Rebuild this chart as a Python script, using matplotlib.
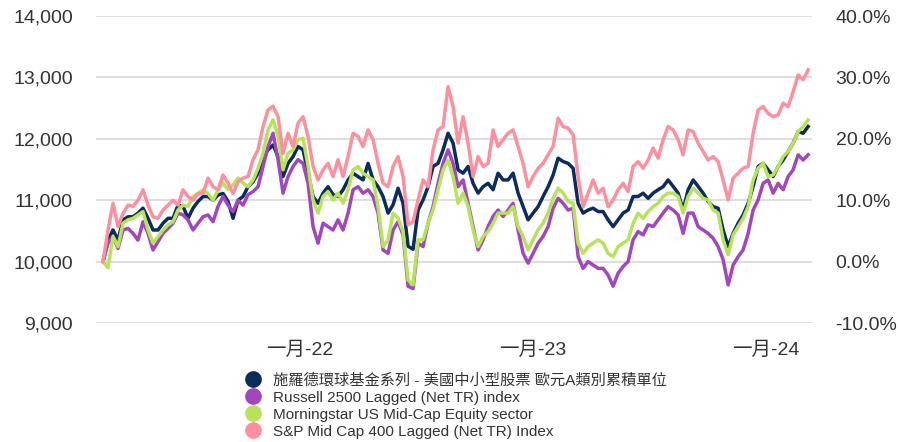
import pandas as pd
import matplotlib.pyplot as plt
import matplotlib.ticker as mticker

plt.rcParams['font.family'] = ['Liberation Sans', 'Noto Sans CJK TC']

# dates of the samples (regular grid)
dates = pd.date_range('2021-02-26', '2024-03-08', periods=142)

fund = [10000, 10350, 10515, 10350, 10680, 10730, 10730, 10790, 10870, 10705,
        10515, 10515, 10625, 10705, 10705, 10920, 10900, 10705, 10870, 10980,
        11060, 11060, 11000, 11085, 11110, 10980, 10705, 11000, 11060, 11220,
        11300, 11440, 11710, 11820, 11900, 11710, 11385, 11600, 11710, 11875,
        11820, 11440, 11060, 10950, 11115, 11220, 11090, 11060, 11170, 11330,
        11440, 11385, 11330, 11600, 11330, 11220, 11060, 10790, 10925, 11195,
        10950, 10250, 10200, 10840, 11005, 11220, 11550, 11600, 11820, 12090,
        11930, 11495, 11440, 11550, 11275, 11115, 11220, 11275, 11170, 11440,
        11330, 11330, 11440, 11115, 10895, 10680, 10790, 10895, 11060, 11220,
        11410, 11685, 11630, 11600, 11520, 10950, 10790, 10840, 10870, 10815,
        10815, 10680, 10570, 10680, 10790, 10840, 11060, 11060, 11115, 11030,
        11115, 11170, 11220, 11330, 11225, 11115, 10840, 11170, 11330, 11225,
        11115, 10980, 10895, 10870, 10515, 10245, 10460, 10625, 10760, 10950,
        11225, 11550, 11600, 11495, 11385, 11550, 11655, 11795, 11930, 12120,
        12090, 12200]

russell = [10000, 10300, 10410, 10215, 10515, 10540, 10460, 10350, 10650, 10460,
           10190, 10325, 10460, 10540, 10625, 10790, 10760, 10680, 10515, 10625,
           10730, 10760, 10650, 10900, 11060, 10920, 10815, 11000, 10920, 11090,
           11140, 11220, 11550, 11875, 12090, 11660, 11115, 11385, 11550, 11660,
           11600, 11275, 10570, 10300, 10625, 10570, 10515, 10680, 10515, 10790,
           11170, 11220, 11115, 11170, 11060, 10790, 10190, 10135, 10515, 10650,
           10435, 9600, 9560, 10300, 10245, 10625, 10895, 11275, 11600, 11820,
           11600, 11220, 11330, 10950, 10570, 10190, 10355, 10570, 10735, 10840,
           10735, 10840, 10950, 10515, 10135, 9975, 10135, 10300, 10410, 10570,
           10870, 11030, 10950, 10840, 10870, 10080, 9890, 10000, 9945, 9890,
           9890, 9780, 9600, 9810, 9920, 10000, 10355, 10490, 10435, 10600,
           10570, 10680, 10790, 10895, 10840, 10760, 10460, 10790, 10790, 10570,
           10515, 10460, 10380, 10245, 10030, 9620, 9945, 10080, 10190, 10460,
           10840, 11005, 11275, 11330, 11115, 11275, 11170, 11385, 11495, 11740,
           11655, 11740]

morningstar = [10000, 9900, 10410, 10245, 10625, 10680, 10705, 10760, 10815, 10515,
               10300, 10410, 10515, 10600, 10650, 10840, 10920, 10900, 11060, 11110,
               11170, 11110, 11000, 11170, 11280, 11170, 11250, 11360, 11280, 11220,
               11330, 11520, 11765, 12145, 12310, 12040, 11495, 11765, 11820, 11985,
               12010, 11550, 11005, 10790, 11060, 11140, 11005, 11115, 10950, 11170,
               11495, 11550, 11440, 11385, 11330, 10895, 10245, 10355, 10790, 10705,
               10490, 9700, 9620, 10355, 10355, 10625, 10840, 11170, 11495, 11655,
               11385, 10950, 11115, 10895, 10515, 10245, 10410, 10490, 10625, 10790,
               10790, 10790, 10895, 10570, 10410, 10190, 10355, 10515, 10625, 10790,
               11030, 11195, 11115, 10980, 10950, 10300, 10135, 10245, 10300, 10355,
               10300, 10135, 10080, 10245, 10300, 10355, 10625, 10790, 10705, 10815,
               10895, 10950, 11060, 11115, 11115, 11060, 10790, 11060, 11195, 11115,
               11030, 11005, 10840, 10790, 10355, 10110, 10435, 10570, 10705, 10895,
               11330, 11520, 11600, 11385, 11410, 11550, 11710, 11795, 11930, 12120,
               12200, 12310]

sp400 = [10000, 10515, 10950, 10570, 10790, 10920, 10900, 11000, 11170, 10920,
         10730, 10705, 10840, 10920, 11000, 10920, 11170, 11060, 11000, 11110,
         11110, 11360, 11220, 11170, 11410, 11280, 11110, 11300, 11360, 11385,
         11660, 11820, 12200, 12470, 12530, 12360, 11765, 12090, 11875, 12255,
         12360, 12040, 11550, 11330, 11495, 11600, 11385, 11660, 11385, 11710,
         12090, 12040, 11875, 12145, 11985, 11600, 11275, 11220, 11550, 11710,
         11385, 10600, 10650, 11005, 11330, 11220, 11820, 12145, 12200, 12850,
         12525, 11930, 12360, 11930, 11385, 11710, 11550, 11600, 12145, 11875,
         11985, 12090, 12145, 11875, 11600, 11220, 11385, 11520, 11600, 11740,
         11875, 12335, 12200, 12175, 12065, 11385, 10895, 11115, 11330, 11115,
         11195, 10895, 11005, 11170, 11275, 11140, 11550, 11630, 11520, 11655,
         11850, 11685, 11985, 12200, 12145, 11985, 11740, 12145, 12120, 11930,
         11795, 11655, 11710, 11630, 11330, 11005, 11360, 11440, 11520, 11550,
         12090, 12470, 12525, 12415, 12360, 12390, 12580, 12525, 12770, 13040,
         12960, 13125]

labels = ['施羅德環球基金系列 - 美國中小型股票 歐元A類別累積單位',
          'Russell 2500 Lagged (Net TR) index',
          'Morningstar US Mid-Cap Equity sector',
          'S&P Mid Cap 400 Lagged (Net TR) Index']
colors = ['#0b2c5c', '#a246bd', '#b7e35b', '#fd909e']

xticks = pd.to_datetime(['2022-01-01', '2023-01-01', '2024-01-01'])
xtick_labels = ['一月-22', '一月-23', '一月-24']

fig = plt.figure(figsize=(8.98, 4.42), dpi=100)
ax = fig.add_axes([0.1069, 0.2692, 0.7973, 0.6946])

for series, c, lab in zip([fund, russell, morningstar, sp400], colors, labels):
    ax.plot(dates, series, color=c, lw=2.5, label=lab, solid_joinstyle='round')

ax.set_ylim(9000, 14000)
ax.set_xlim(dates[0] - pd.Timedelta(days=11), dates[-1] + pd.Timedelta(days=6))
ax.set_yticks(range(9000, 14001, 1000))
ax.yaxis.set_major_formatter(mticker.FuncFormatter(lambda v, p: f'{v:,.0f}'))
ax.set_xticks(xticks)
ax.set_xticklabels(xtick_labels)
ax.grid(axis='y', color='#dedede', lw=1.5)
ax.set_axisbelow(True)
for s in ax.spines.values():
    s.set_visible(False)
ax.tick_params(length=0, labelsize=14, colors='#333333')
ax.tick_params(axis='x', pad=13)
ax.tick_params(axis='y', pad=16.5)

ax2 = ax.twinx()
ax2.set_ylim(-10, 40)
ax2.set_yticks(range(-10, 41, 10))
ax2.yaxis.set_major_formatter(mticker.FuncFormatter(lambda v, p: f'{v:.1f}%'))
for s in ax2.spines.values():
    s.set_visible(False)
ax2.tick_params(length=0, labelsize=14, colors='#333333', pad=17)

markers = [plt.Line2D([], [], ls='', marker='o', ms=11, color=c) for c in colors]
fig.legend(markers, labels, loc='upper left', bbox_to_anchor=(0.273, 0.156),
           frameon=False, fontsize=11, handlelength=1.0, handletextpad=0.8,
           labelspacing=0.2, borderpad=0, borderaxespad=0, labelcolor='#333333')

fig.savefig('out.png', dpi=100)
